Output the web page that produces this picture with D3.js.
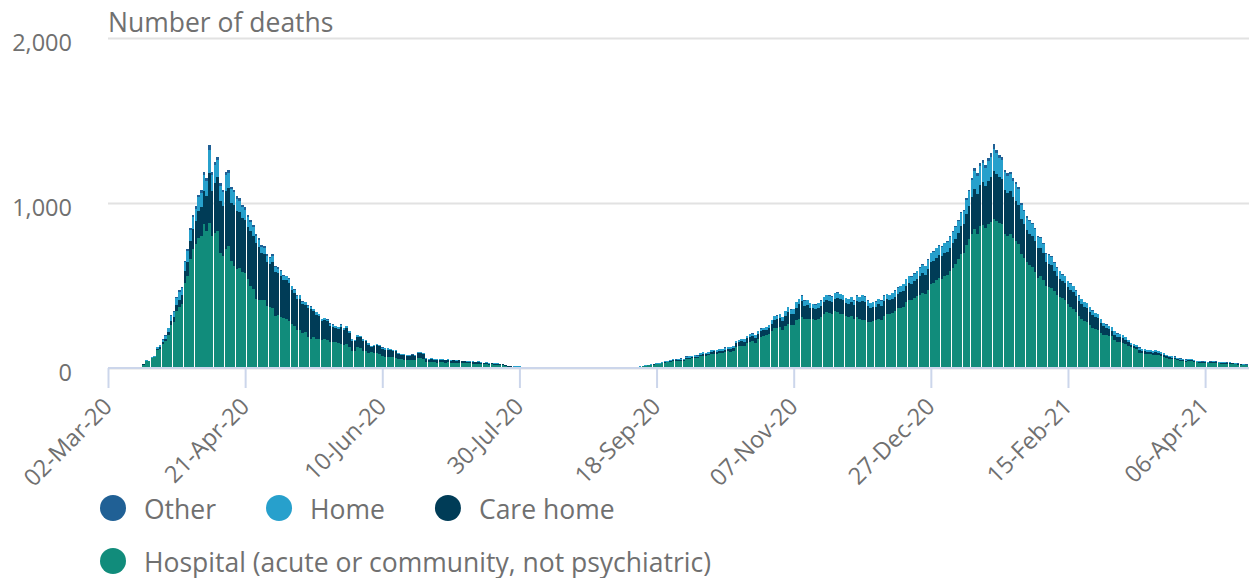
<!DOCTYPE html>
<html>
<head>
<meta charset="utf-8">
<script src="https://cdn.jsdelivr.net/npm/d3@7"></script>
<style>
  body { margin: 0; background: #fff; }
  text { font-family: "Open Sans", sans-serif; fill: #707070; }
</style>
</head>
<body>
<div id="chart"></div>
<script>
// Daily deaths by place of occurrence, 02-Mar-20 to 21-Apr-21 (one value per day)
const dates = d3.utcDay.range(new Date(Date.UTC(2020, 2, 2)), new Date(Date.UTC(2021, 3, 22)));

const hospital = [
  0,0,0,0,1,0,1,1,2,2,              // 02-Mar
  3,4,7,21,43,40,58,64,110,118,
  146,165,200,262,280,345,370,388,515,560,
  660,720,750,790,800,870,830,880,800,820,
  830,700,680,720,740,650,620,600,605,580,
  575,540,500,480,420,410,415,410,375,370,
  365,315,320,310,305,300,285,265,255,230,
  228,215,217,190,178,185,178,175,172,176,
  170,160,158,155,150,146,140,145,130,105,
  105,125,120,105,103,92,95,92,90,85,
  70,65,68,66,64,62,55,52,50,48,
  46,50,48,60,62,56,38,35,37,35,
  33,36,35,33,34,31,33,31,33,30,
  29,28,29,27,26,27,24,23,24,21,
  22,20,21,19,18,14,9,8,8,7,
  7,6,6,5,6,5,5,4,5,4,
  4,3,4,3,3,3,2,3,2,2,
  2,2,2,1,2,1,2,2,1,2,
  2,2,3,2,3,3,3,3,4,5,
  6,5,5,7,8,10,14,16,19,21,
  24,23,28,33,35,39,43,41,44,45,
  43,55,56,58,61,59,70,74,72,76,
  84,87,85,89,91,96,100,98,103,126,
  131,136,133,150,158,162,154,173,190,196,
  198,205,224,240,242,248,232,252,264,258,
  260,288,300,312,296,300,300,298,292,300,
  310,330,342,336,330,345,340,328,325,318,
  312,318,300,310,300,290,288,280,278,285,
  290,300,292,315,328,325,332,345,362,365,
  372,400,415,410,425,436,442,455,447,475,
  510,518,535,545,540,556,563,585,605,628,
  660,690,700,745,780,815,840,810,860,865,
  850,870,885,905,890,880,870,815,800,810,
  785,770,750,690,665,640,625,610,580,545,
  560,535,500,490,487,465,445,430,425,410,
  385,370,360,340,315,300,285,280,262,245,
  235,230,215,200,198,195,192,172,160,158,
  152,145,135,125,123,118,92,88,85,83,
  82,78,80,76,70,67,60,56,54,52,
  46,43,41,39,42,41,37,34,31,30,
  31,28,30,32,30,28,27,26,25,27,
  25,22,21,19,18,16
];

const careHome = [
  0,0,0,0,0,0,0,0,0,0,
  0,0,0,1,2,1,3,3,6,7,
  10,13,17,23,28,37,45,52,70,85,
  110,120,140,160,175,200,215,300,270,300,
  325,310,300,355,350,350,365,350,340,330,
  320,315,330,320,335,322,280,280,268,260,
  280,265,255,250,228,232,230,210,200,187,
  192,170,165,172,180,158,146,140,115,116,
  112,97,93,88,88,105,93,97,83,60,
  56,65,65,60,58,50,33,40,47,47,
  47,47,44,42,39,39,29,27,29,26,
  26,26,26,29,29,28,18,16,17,16,
  15,15,15,13,14,13,13,12,13,11,
  11,10,10,9,8,9,7,7,7,6,
  6,5,6,5,4,3,2,2,1,1,
  1,1,1,1,0,1,0,1,0,1,
  0,1,0,0,1,0,0,0,0,0,
  0,0,0,0,0,0,0,0,0,0,
  0,0,0,0,0,0,0,0,0,1,
  1,0,1,1,1,1,1,2,2,2,
  3,3,3,4,4,5,5,5,5,6,
  5,7,7,8,8,8,10,10,10,11,
  12,13,13,14,14,16,17,17,18,24,
  25,26,26,29,30,31,30,35,33,32,
  34,38,44,50,52,55,52,64,76,68,
  70,78,86,92,80,80,65,63,64,65,
  68,68,70,72,72,76,85,88,86,76,
  78,80,80,95,97,118,112,96,85,83,
  82,86,85,90,88,86,88,88,89,95,
  96,98,100,100,103,106,115,120,118,126,
  130,132,134,137,136,140,140,145,151,155,
  160,170,172,190,200,222,245,245,250,262,
  252,265,275,290,285,275,275,265,262,260,
  250,245,240,215,205,195,190,190,190,180,
  165,160,140,140,135,123,115,110,100,105,
  103,105,100,95,92,88,83,83,78,75,
  72,72,60,52,45,40,35,31,29,28,
  27,25,20,13,13,11,18,16,16,15,
  14,14,15,14,14,13,10,9,9,9,
  8,7,7,6,7,7,6,5,5,4,
  4,4,4,4,4,4,4,4,4,4,
  3,3,3,3,2,2
];

const home = [
  0,0,0,0,0,0,0,0,0,1,
  1,1,1,2,4,3,6,6,12,13,
  16,18,23,29,31,40,47,42,55,63,
  68,76,75,85,88,100,88,140,100,110,
  105,92,85,95,92,85,80,75,70,67,
  65,60,57,52,48,46,40,40,37,36,
  36,32,28,28,26,23,24,20,20,18,
  20,16,15,15,14,14,13,12,11,11,
  11,11,12,10,10,12,10,11,10,8,
  8,9,9,9,8,7,6,7,7,7,
  7,7,7,6,6,6,5,5,5,5,
  5,5,5,5,5,5,4,4,4,4,
  4,4,4,4,4,4,4,4,4,4,
  4,4,4,4,4,4,4,3,3,3,
  3,3,3,3,3,3,2,2,2,2,
  2,2,1,2,2,1,2,1,2,1,
  1,2,1,1,1,1,1,1,1,1,
  1,1,1,1,1,1,1,1,1,1,
  1,1,1,1,1,1,1,1,1,1,
  1,1,1,1,2,2,2,2,3,3,
  3,3,4,4,5,5,6,5,6,6,
  6,7,8,8,8,8,9,10,9,10,
  11,11,11,11,12,12,12,12,13,14,
  15,15,15,15,16,16,15,16,16,16,
  17,18,20,23,24,25,24,27,28,27,
  28,31,31,33,31,32,28,27,27,28,
  30,30,31,30,31,32,32,31,31,29,
  28,30,28,33,31,35,33,32,30,30,
  31,32,31,33,32,32,33,35,36,37,
  39,39,42,42,44,45,49,51,51,55,
  56,56,57,58,59,59,62,65,68,70,
  73,78,80,85,90,100,110,110,112,115,
  112,117,120,135,125,118,117,105,102,104,
  100,100,95,82,79,75,75,70,70,66,
  62,58,53,53,52,46,45,45,41,40,
  38,36,36,32,30,29,29,29,27,27,
  25,25,22,20,19,18,21,20,19,19,
  19,18,14,11,11,10,14,13,13,13,
  13,12,12,11,10,9,9,9,8,8,
  7,7,6,6,6,6,6,5,5,5,
  5,5,5,5,5,5,4,4,4,4,
  4,4,3,3,3,3
];

const other = [
  0,0,0,0,0,0,0,0,0,0,
  0,0,0,1,1,1,1,2,2,2,
  3,4,5,6,6,8,8,8,10,12,
  12,14,15,15,17,20,17,30,20,20,
  20,18,15,20,18,15,15,15,15,13,
  15,15,13,13,12,12,10,10,10,9,
  9,8,7,7,6,5,6,5,5,5,
  5,4,3,3,3,3,3,3,2,2,
  2,2,2,2,2,2,2,2,2,2,
  1,1,1,1,1,1,1,1,1,1,
  1,1,1,1,1,1,1,1,1,1,
  1,1,1,1,1,1,0,0,0,0,
  0,0,0,0,0,0,0,0,0,0,
  0,0,0,0,0,0,0,0,0,0,
  0,0,0,0,0,0,0,0,0,0,
  0,0,0,0,0,0,0,0,0,0,
  0,0,0,0,0,0,0,0,0,0,
  0,0,0,0,0,0,0,0,0,0,
  0,0,0,0,0,0,0,0,0,0,
  0,0,0,0,0,0,1,0,0,1,
  0,1,1,1,1,1,1,1,1,1,
  1,1,1,1,1,1,1,1,1,1,
  1,1,1,1,1,1,1,1,1,1,
  1,1,1,1,1,1,1,1,1,1,
  1,1,2,2,2,2,2,2,2,2,
  2,3,3,3,3,3,2,2,2,2,
  2,2,2,2,2,2,3,3,3,2,
  2,2,2,2,2,2,2,2,2,2,
  2,2,2,2,2,2,2,2,3,3,
  3,3,3,3,3,3,4,4,4,4,
  4,4,4,5,5,5,5,5,6,7,
  7,7,8,10,10,13,15,15,18,18,
  16,18,20,30,20,17,18,15,16,16,
  15,15,15,13,11,10,10,10,10,9,
  8,7,7,7,6,6,5,5,4,5,
  4,4,4,3,3,3,3,3,3,3,
  3,3,3,3,3,2,2,2,2,2,
  2,2,1,1,1,1,1,1,1,1,
  1,1,1,1,1,1,1,1,1,1,
  1,1,1,1,1,1,1,1,1,1,
  1,1,1,1,1,1,1,1,1,1,
  1,1,1,1,1,1
];

const yTicks = [0, 1000, 2000];
const seriesKeys = ["hospital", "careHome", "home", "other"];   // stack order, bottom up
const legendKeys = ["other", "home", "careHome", "hospital"];
const seriesNames = {
  other: "Other",
  home: "Home",
  careHome: "Care home",
  hospital: "Hospital (acute or community, not psychiatric)"
};
const colors = { other: "#206095", home: "#27a0cc", careHome: "#003c57", hospital: "#118c7b" };

[hospital, careHome, home, other].forEach(a => {
  if (a.length !== dates.length) throw new Error("length " + a.length + " vs " + dates.length);
});

// table for the stack
const table = dates.map((d, i) => ({
  date: d, hospital: hospital[i], careHome: careHome[i], home: home[i], other: other[i]
}));

const width = 1249, height = 578;
const plotLeft = 108, plotRight = 1249, plotTop = 38, plotBottom = 368;

const svg = d3.select("#chart").append("svg")
  .attr("width", width)
  .attr("height", height);

const x = d3.scaleUtc()
  .domain([dates[0], d3.utcDay.offset(dates[dates.length - 1], 1)])
  .range([plotLeft, plotRight]);

const y = d3.scaleLinear()
  .domain([0, 2000])
  .range([plotBottom, plotTop]);

const dayW = x(dates[1]) - x(dates[0]);

// gridlines + y labels
const yAxis = svg.append("g")
  .attr("transform", `translate(${plotLeft},0)`)
  .call(d3.axisLeft(y).tickValues(yTicks).tickFormat(d3.format(","))
    .tickSize(-(plotRight - plotLeft)).tickPadding(36));
yAxis.select(".domain").remove();
yAxis.selectAll("line").attr("stroke", "#e2e2e2").attr("stroke-width", 2);
yAxis.selectAll("text")
  .attr("dy", "0.52em")
  .style("font-size", "23.5px")
  .attr("fill", "#707070");

// stacked bars
const stack = d3.stack().keys(seriesKeys);
const layers = stack(table);

const barLeft = d => Math.round(x(d.data.date) - dayW / 2 + 0.125);
const barRight = d => Math.round(x(d.data.date) + dayW / 2 - 0.125);

svg.append("g")
  .attr("shape-rendering", "crispEdges")
  .selectAll("g")
  .data(layers)
  .join("g")
    .attr("fill", d => colors[d.key])
  .selectAll("rect")
  .data(d => d)
  .join("rect")
    .attr("x", barLeft)
    .attr("width", d => barRight(d) - barLeft(d))
    .attr("y", d => Math.round(y(d[1])))
    .attr("height", d => Math.max(0, Math.round(y(d[0])) - Math.round(y(d[1]))));

// x axis
const tickDates = dates.filter((d, i) => i % 50 === 0);
const xAxis = svg.append("g")
  .attr("transform", `translate(0,${plotBottom})`)
  .call(d3.axisBottom(x).tickValues(tickDates).tickSize(20).tickFormat(d3.utcFormat("%d-%b-%y")));
xAxis.select(".domain").remove();
xAxis.selectAll("line").attr("stroke", "#ccd6eb").attr("stroke-width", 2);
xAxis.selectAll("text")
  .attr("text-anchor", "end")
  .attr("dy", null)
  .attr("y", null)
  .attr("transform", "translate(5,40) rotate(-45)")
  .style("font-size", "23.5px")
  .attr("fill", "#707070");

svg.append("line")
  .attr("x1", plotLeft).attr("x2", plotRight)
  .attr("y1", plotBottom).attr("y2", plotBottom)
  .attr("stroke", "#ccd6eb").attr("stroke-width", 2);

// title
svg.append("text")
  .attr("x", plotLeft)
  .attr("y", 31.5)
  .style("font-size", "26.5px")
  .text("Number of deaths");

// legend, flowing left to right
const legend = svg.append("g");
let lx = 100, ly = 508;
legendKeys.forEach(k => {
  const item = legend.append("g");
  item.append("circle").attr("r", 13).attr("fill", colors[k]);
  const t = item.append("text")
    .attr("x", 31)
    .attr("y", 10.5)
    .style("font-size", "26.5px")
    .text(seriesNames[k]);
  const w = 31 + t.node().getComputedTextLength();
  if (lx + 13 + w > width) { lx = 100; ly += 53; }
  item.attr("transform", `translate(${lx + 13},${ly})`);
  lx += 13 + w + 50;
});
</script>
</body>
</html>
